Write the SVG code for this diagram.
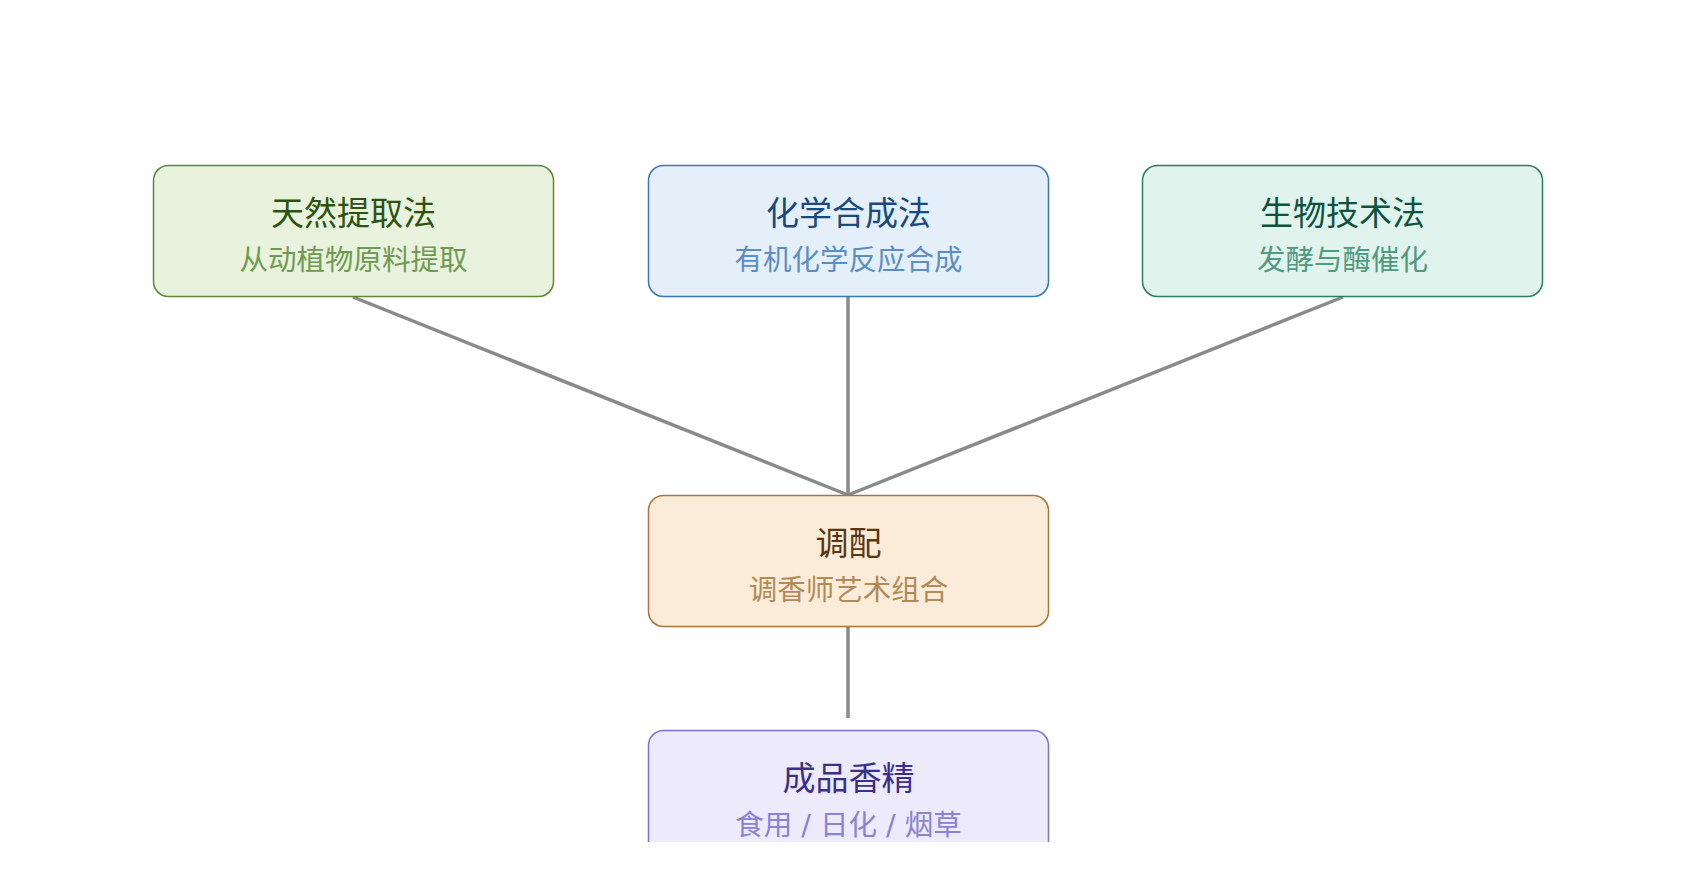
<svg xmlns="http://www.w3.org/2000/svg" width="1696" height="890" viewBox="0 0 1696 890">
<style>
.box{stroke-width:1.5}
.t{font-family:"DejaVu Sans","Noto Sans CJK SC",sans-serif;font-size:33px;text-anchor:middle}
.s{font-family:"DejaVu Sans","Noto Sans CJK SC",sans-serif;font-size:28.5px;text-anchor:middle}
.edge{stroke:#8a8a8a;stroke-width:3.5;fill:none}
</style>
<defs>
<clipPath id="clip"><rect x="0" y="0" width="1696" height="842"/></clipPath>
</defs>
<rect width="1696" height="890" fill="#ffffff"/>
<g clip-path="url(#clip)">
<g id="connectors">
<line class="edge" x1="353" y1="297" x2="848" y2="495"/>
<line class="edge" x1="848" y1="297" x2="848" y2="495"/>
<line class="edge" x1="1343" y1="297" x2="848" y2="495"/>
<line class="edge" x1="848" y1="627" x2="848" y2="718"/>
</g>
<g id="natural">
<rect class="box" x="153.5" y="165.5" width="400" height="131" rx="15" fill="#e8f2dc" stroke="#5b8a33"/>
<text class="t" x="353.5" y="225" fill="#2c5312">天然提取法</text>
<text class="s" x="353.5" y="270" fill="#6f9a52">从动植物原料提取</text>
</g>
<g id="chemical">
<rect class="box" x="648.5" y="165.5" width="400" height="131" rx="15" fill="#e4eff9" stroke="#3b76b5"/>
<text class="t" x="848.5" y="225" fill="#174a80">化学合成法</text>
<text class="s" x="848.5" y="270" fill="#5b8ec4">有机化学反应合成</text>
</g>
<g id="bio">
<rect class="box" x="1142.5" y="165.5" width="400" height="131" rx="15" fill="#e0f3ec" stroke="#2c7d62"/>
<text class="t" x="1342.5" y="225" fill="#0e5340">生物技术法</text>
<text class="s" x="1342.5" y="270" fill="#4f9a80">发酵与酶催化</text>
</g>
<g id="blend">
<rect class="box" x="648.5" y="495.5" width="400" height="131" rx="15" fill="#faecd9" stroke="#a8763c"/>
<text class="t" x="848.5" y="555" fill="#5c3610">调配</text>
<text class="s" x="848.5" y="600" fill="#b38a55">调香师艺术组合</text>
</g>
<g id="product">
<rect class="box" x="648.5" y="730.5" width="400" height="131" rx="15" fill="#edebfb" stroke="#7b72d0"/>
<text class="t" x="848.5" y="790" fill="#3b2f8c">成品香精</text>
<text class="s" x="848.5" y="835" fill="#8a82d2">食用 / 日化 / 烟草</text>
</g>
</g>
</svg>
